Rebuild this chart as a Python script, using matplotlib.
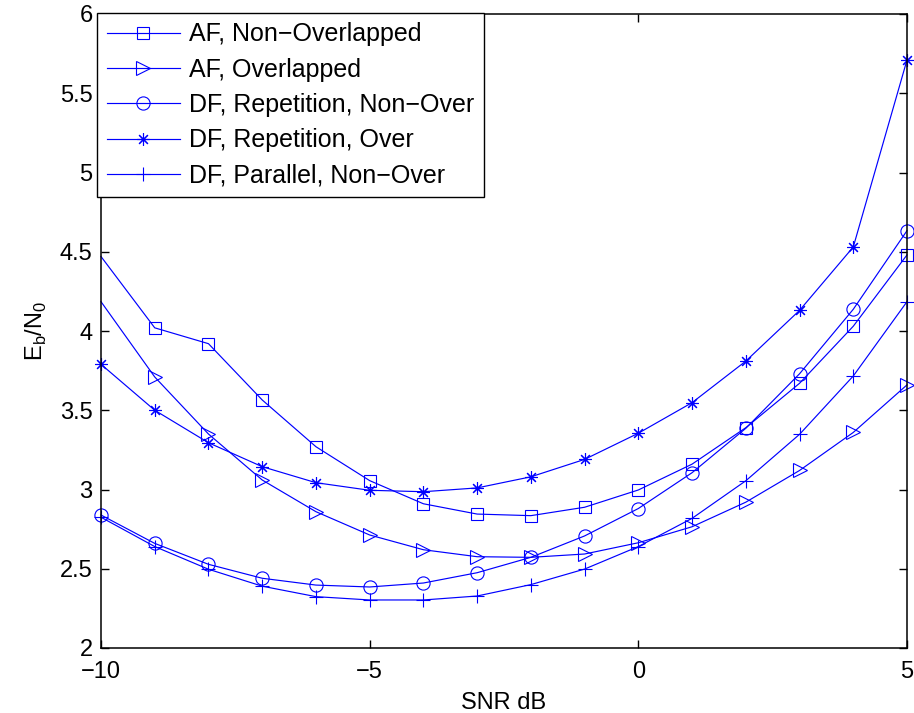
import matplotlib
matplotlib.use('Agg')
import matplotlib.pyplot as plt
from matplotlib.lines import Line2D
import numpy as np

plt.rcParams['font.family'] = ['Liberation Sans', 'DejaVu Sans']
plt.rcParams['mathtext.fontset'] = 'custom'
plt.rcParams['mathtext.rm'] = 'Liberation Sans'

# SNR in dB
snr = [-10, -9, -8, -7, -6, -5, -4, -3, -2, -1, 0, 1, 2, 3, 4, 5]

# Eb/N0 for each scheme (first value of the AF curves has no marker)
af_non_over = [4.47, 4.02, 3.92, 3.565, 3.27, 3.056, 2.91, 2.845, 2.835, 2.888,
               2.997, 3.16, 3.39, 3.67, 4.03, 4.48]
af_over = [4.185, 3.71, 3.35, 3.06, 2.86, 2.713, 2.62, 2.576, 2.572, 2.593,
           2.664, 2.765, 2.92, 3.12, 3.36, 3.66]
df_rep_non_over = [2.839, 2.66, 2.528, 2.44, 2.397, 2.385, 2.41, 2.475, 2.572,
                   2.707, 2.88, 3.106, 3.386, 3.73, 4.137, 4.633]
df_rep_over = [3.79, 3.50, 3.295, 3.144, 3.043, 2.995, 2.986, 3.01, 3.08, 3.19,
               3.355, 3.548, 3.81, 4.13, 4.53, 5.71]
df_par_non_over = [2.825, 2.64, 2.497, 2.39, 2.324, 2.303, 2.303, 2.328, 2.40,
                   2.498, 2.64, 2.818, 3.055, 3.348, 3.716, 4.185]

labels = ['AF, Non\u2212Overlapped', 'AF, Overlapped',
          'DF, Repetition, Non\u2212Over', 'DF, Repetition, Over',
          'DF, Parallel, Non\u2212Over']

blue = '#0000ff'
star = (8, 2, 0)
fs = 17

series = [
    (af_non_over, 's', 8.5, slice(1, None)),
    (af_over, '>', 10, slice(1, None)),
    (df_rep_non_over, 'o', 9.5, None),
    (df_rep_over, star, 9, None),
    (df_par_non_over, '+', 10, None),
]

fig = plt.figure(figsize=(9.14, 7.13), dpi=100)
ax = fig.add_axes([101/914, 1 - 648/713, 806/914, 634/713])

handles = []
for (vals, mk, ms, every), lab in zip(series, labels):
    ax.plot(snr, vals, color=blue, lw=0.85, marker=mk, markersize=ms,
            markerfacecolor='none', markeredgecolor=blue, markeredgewidth=0.8,
            markevery=every, clip_on=False)
    handles.append(Line2D([], [], color=blue, lw=0.85, marker=mk, markersize=ms,
                          markerfacecolor='none', markeredgecolor=blue,
                          markeredgewidth=0.8))

ax.set_xlim(-10, 5)
ax.set_ylim(2, 6)
ax.set_xticks([-10, -5, 0, 5])
ax.set_yticks(np.arange(2, 6.01, 0.5))
ax.set_yticklabels(['2', '2.5', '3', '3.5', '4', '4.5', '5', '5.5', '6'])
ax.tick_params(direction='in', length=6, width=1, labelsize=fs,
               top=True, right=True)
ax.tick_params(axis='x', pad=9)
ax.tick_params(axis='y', pad=6)
for sp in ax.spines.values():
    sp.set_linewidth(1.1)

ax.set_xlabel('SNR dB', fontsize=fs, labelpad=7)
ax.set_ylabel(r'E$_\mathrm{b}$/N$_\mathrm{0}$', fontsize=fs, labelpad=8)

leg = fig.legend(handles, labels, loc='upper left',
                 bbox_to_anchor=(97/914, 1 - 13/713), borderaxespad=0,
                 fontsize=18, fancybox=False, framealpha=1, edgecolor='black',
                 handlelength=2.95, handletextpad=0.36, labelspacing=0.45,
                 borderpad=0.38)
leg.get_frame().set_linewidth(1.0)

fig.savefig('out.png', dpi=100)
